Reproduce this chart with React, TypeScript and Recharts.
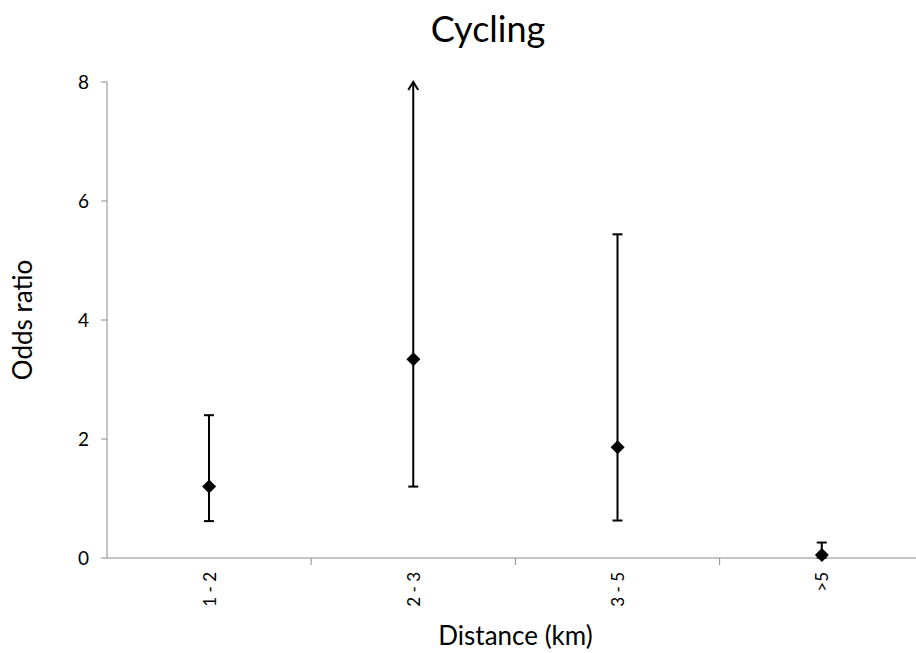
import { ComposedChart, Bar, Line, XAxis, YAxis } from 'recharts';

const categories = ['1 - 2', '2 - 3', '3 - 5', '>5'];
const oddsRatio = [1.2, 3.34, 1.86, 0.05];
const lowerCI = [0.62, 1.2, 0.63, 0.0];
const upperCI = [2.4, 8, 5.44, 0.26];
const truncated = [false, true, false, false];
const yTicks = [0, 2, 4, 6, 8];

const data = categories.map((name, i) => ({
  name,
  or: oddsRatio[i],
  ci: [lowerCI[i], upperCI[i]],
  truncated: truncated[i],
}));

const FONT = 'Lato, "Open Sans", sans-serif';
const AXIS = '#8c8c8c';
const HALF_BAND = 102;

function Whisker(props: any) {
  const { x, y, width, height, payload } = props;
  const cx = x + width / 2;
  const top = y;
  const bottom = y + height;
  return (
    <g stroke="#000" strokeWidth={2} fill="none">
      <line x1={cx} y1={top} x2={cx} y2={bottom} />
      <line x1={cx - 5} y1={bottom} x2={cx + 5} y2={bottom} />
      {payload.truncated ? (
        <polyline points={`${cx - 5},${top + 8} ${cx},${top} ${cx + 5},${top + 8}`} />
      ) : (
        <line x1={cx - 5} y1={top} x2={cx + 5} y2={top} />
      )}
    </g>
  );
}

function Diamond(props: any) {
  const { cx, cy } = props;
  if (cx == null || cy == null) return null;
  const r = 7;
  return <path d={`M${cx},${cy - r} L${cx + r},${cy} L${cx},${cy + r} L${cx - r},${cy} Z`} fill="#000" />;
}

function XTick(props: any) {
  const { x, y, payload, index } = props;
  return (
    <g>
      {index < categories.length - 1 && (
        <line x1={x + HALF_BAND} y1={y - 8} x2={x + HALF_BAND} y2={y - 1} stroke={AXIS} />
      )}
      <text
        x={x}
        y={y + 6}
        transform={`rotate(-90, ${x}, ${y + 6})`}
        textAnchor="end"
        dominantBaseline="central"
        fontSize={17}
        fontFamily={FONT}
        fill="#000"
      >
        {payload.value}
      </text>
    </g>
  );
}

export default function App() {
  return (
    <div style={{ position: 'absolute', left: 0, top: 0, width: 916, height: 653, overflow: 'hidden', background: '#fff' }}>
      <div
        style={{
          position: 'absolute',
          left: 0,
          width: 976,
          top: 6,
          textAlign: 'center',
          fontFamily: FONT,
          fontSize: 36,
          color: '#000',
        }}
      >
        Cycling
      </div>
      <ComposedChart width={924} height={653} data={data} margin={{ top: 82, right: 0, bottom: 0, left: 0 }}>
        <XAxis
          dataKey="name"
          stroke={AXIS}
          tickLine={false}
          tick={<XTick />}
          interval={0}
          height={95}
          label={{ value: 'Distance (km)', position: 'insideBottom', offset: 8, fontSize: 26, fontFamily: FONT, fill: '#000' }}
        />
        <YAxis
          domain={[0, 8]}
          ticks={yTicks}
          width={107}
          stroke={AXIS}
          tickSize={6}
          tickMargin={12}
          tick={{ fontSize: 19, fontFamily: FONT, fill: '#000' }}
          label={{ value: 'Odds ratio', angle: -90, position: 'insideLeft', offset: 23, fontSize: 26, fontFamily: FONT, fill: '#000', style: { textAnchor: 'middle' } }}
        />
        <Bar dataKey="ci" barSize={10} shape={<Whisker />} isAnimationActive={false} />
        <Line dataKey="or" stroke="none" dot={<Diamond />} activeDot={false} isAnimationActive={false} />
      </ComposedChart>
    </div>
  );
}
